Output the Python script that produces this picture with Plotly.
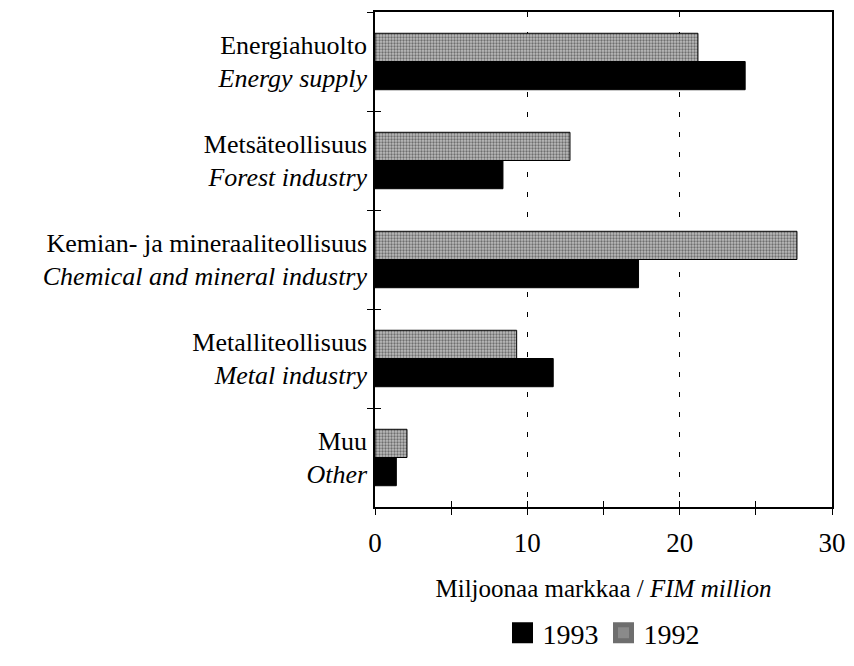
import plotly.graph_objects as go

# toimialat / sectors (top to bottom)
categories = [
    "Energiahuolto<br><i>Energy supply</i>",
    "Metsäteollisuus<br><i>Forest industry</i>",
    "Kemian- ja mineraaliteollisuus<br><i>Chemical and mineral industry</i>",
    "Metalliteollisuus<br><i>Metal industry</i>",
    "Muu<br><i>Other</i>",
]
values_1992 = [21.2, 12.8, 27.7, 9.3, 2.1]
values_1993 = [24.3, 8.4, 17.3, 11.7, 1.4]

FONT = "Liberation Serif"
gray_pattern = dict(shape=".", fgcolor="#202020", bgcolor="#bcbcbc", size=3, solidity=0.45)

fig = go.Figure()

# bars: 1992 above 1993 inside each group (y axis reversed)
fig.add_trace(go.Bar(
    y=categories, x=values_1992, orientation="h", name="1992",
    marker=dict(color="#bcbcbc", pattern=gray_pattern, line=dict(color="black", width=1)),
    showlegend=False,
))
fig.add_trace(go.Bar(
    y=categories, x=values_1993, orientation="h", name="1993",
    marker=dict(color="black", line=dict(color="black", width=1)),
    showlegend=False,
))

# legend entries (bigger squares than the default bar icon)
fig.add_trace(go.Scatter(
    x=[None], y=[None], mode="markers", name="1993",
    marker=dict(symbol="square", size=16, color="black", line=dict(color="black", width=5)),
))
fig.add_trace(go.Scatter(
    x=[None], y=[None], mode="markers", name="1992",
    marker=dict(symbol="square", size=16, color="#8a8a8a", line=dict(color="#6e6e6e", width=5)),
))

# invisible trace so the overlay axes get the same categories (inside half of the "+" ticks)
fig.add_trace(go.Scatter(
    x=[0] * len(categories), y=categories, xaxis="x2", yaxis="y2",
    mode="markers", marker=dict(opacity=0), showlegend=False, hoverinfo="skip",
))

fig.update_layout(
    width=838, height=650,
    margin=dict(l=367, r=14, t=4, b=151),
    paper_bgcolor="white", plot_bgcolor="white",
    font=dict(family=FONT, size=24, color="black"),
    barmode="group", bargap=0.43, bargroupgap=0,
    xaxis=dict(
        range=[0, 30], tick0=0, dtick=10, automargin=False,
        showline=True, linecolor="black", linewidth=1.5, mirror=True,
        ticks="outside", ticklen=6, tickcolor="black",
        tickfont=dict(size=27), ticklabelstandoff=5,
        minor=dict(dtick=5, ticks="outside", ticklen=6, tickcolor="black", showgrid=False),
        showgrid=True, gridcolor="black", gridwidth=1, griddash="5px,15px",
        zeroline=False,
        title=dict(text="Miljoonaa markkaa / <i>FIM million</i>", standoff=22, font=dict(size=25)),
    ),
    xaxis2=dict(
        overlaying="x", anchor="y", range=[0, 30], tick0=0, dtick=5,
        ticks="inside", ticklen=6, tickcolor="black",
        showticklabels=False, showgrid=False, zeroline=False, showline=False,
    ),
    yaxis=dict(
        type="category", categoryarray=categories, range=[4.5, -0.5], automargin=False,
        showline=True, linecolor="black", linewidth=1.5, mirror=True,
        ticks="outside", ticklen=6, tickcolor="black", tickson="boundaries",
        tickfont=dict(size=26), ticklabelstandoff=1,
        showgrid=False, zeroline=False,
    ),
    yaxis2=dict(
        overlaying="y", anchor="x", type="category", categoryarray=categories,
        range=[4.5, -0.5], tickson="boundaries",
        ticks="inside", ticklen=6, tickcolor="black",
        showticklabels=False, showgrid=False, zeroline=False, showline=False,
    ),
    legend=dict(
        orientation="h", x=0.5, xanchor="center",
        yref="container", y=0, yanchor="bottom",
        font=dict(size=28), itemwidth=30,
    ),
)

fig.write_html("out.html")
